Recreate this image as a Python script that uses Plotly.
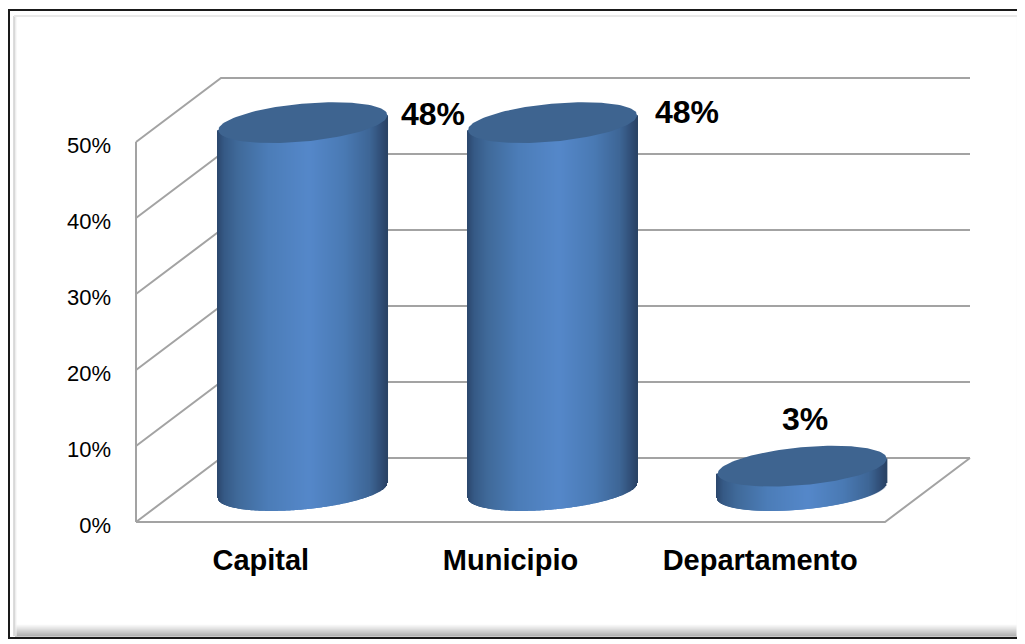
import numpy as np
import plotly.graph_objects as go

categories = ["Capital", "Municipio", "Departamento"]
values = [48.4, 48.4, 3.2]
value_labels = ["48%", "48%", "3%"]
y_ticks = [0, 10, 20, 30, 40, 50]
y_tick_labels = ["0%", "10%", "20%", "30%", "40%", "50%"]

# the page keeps the browser's 8px body margin
PAGE = 8
W, H = 1025 - PAGE, 644 - PAGE
# where the front plane of the chart sits on screen
LEFT, RIGHT, TOP, BOTTOM = 136, 885, 142, 522
PX_X = (RIGHT - LEFT) / 3.0
PX_Y = (BOTTOM - TOP) / 50.0
# plot box is larger than the front plane, lines and bars get clipped to it
BOX_L, BOX_R, BOX_T, BOX_B = 132, 985, 60, 526
X_RANGE = [-0.5 + (BOX_L - LEFT) / PX_X, -0.5 + (BOX_R - LEFT) / PX_X]
Y_RANGE = [(BOTTOM - BOX_B) / PX_Y, (BOTTOM - BOX_T) / PX_Y]

# fake 3D depth of the walls, in axis units
DEPTH_X = 85 / PX_X
DEPTH_Y = 64 / PX_Y
# cylinder shape, in axis units
CYL_OFF_X = 42 / PX_X
CYL_OFF_Y = 31.5 / PX_Y
CYL_A = 84.5 / PX_X
CYL_B = 19 / PX_Y
CYL_TILT = 7.5 / PX_Y

GRID = "#a3a3a3"
TOP_COLOR = "#3e6490"
FONT = "Liberation Sans"

# left to right shading of a cylinder body
shade_pos = [0.0, 0.04, 0.12, 0.3, 0.54, 0.75, 0.9, 0.97, 1.0]
shade_rgb = [(44, 72, 110), (54, 90, 134), (64, 106, 154), (76, 125, 184), (85, 136, 202),
             (74, 122, 180), (62, 102, 150), (48, 78, 118), (42, 68, 102)]


def px_x(px):
    return (px - BOX_L) / (BOX_R - BOX_L)


def px_y(py):
    return (BOX_B - py) / (BOX_B - BOX_T)


fig = go.Figure()


def wall_line(xs, ys):
    fig.add_trace(go.Scatter(x=xs, y=ys, mode="lines", line=dict(color=GRID, width=2),
                             showlegend=False, hoverinfo="skip"))


# walls and floor, on the lower subplot so that the cylinders cover them
for tick in y_ticks:
    wall_line([-0.5, -0.5 + DEPTH_X, 2.5 + DEPTH_X], [tick, tick + DEPTH_Y, tick + DEPTH_Y])
wall_line([-0.5, -0.5], [0, 50])
wall_line([-0.5, 2.5, 2.5 + DEPTH_X], [0, 0, DEPTH_Y])

# cylinders
for i, val in enumerate(values):
    cx = i + CYL_OFF_X
    u = np.linspace(-1, 1, 170)
    front = np.sqrt(1 - u ** 2)
    low = CYL_OFF_Y + CYL_TILT * u - CYL_B * front
    high = CYL_OFF_Y + val + CYL_TILT * u
    colors = ["rgb(%d,%d,%d)" % tuple(np.interp((p + 1) / 2, shade_pos, [c[k] for c in shade_rgb]) for k in range(3))
              for p in u]
    fig.add_trace(go.Bar(
        x=cx + CYL_A * u, y=high - low, base=low,
        width=1.4 / PX_X, marker=dict(color=colors, line=dict(width=0)),
        showlegend=False, hoverinfo="skip",
        xaxis="x2", yaxis="y2",
    ))
    t = np.linspace(0, 2 * np.pi, 120)
    fig.add_trace(go.Scatter(
        x=cx + CYL_A * np.cos(t),
        y=CYL_OFF_Y + val + CYL_TILT * np.cos(t) + CYL_B * np.sin(t),
        mode="lines", fill="toself", fillcolor=TOP_COLOR, line=dict(width=0, color=TOP_COLOR),
        showlegend=False, hoverinfo="skip",
        xaxis="x2", yaxis="y2",
    ))

# value labels sit beside the cylinders
label_shift = [(172, 40), (176, 42), (45, 79)]
for i, val in enumerate(values):
    fig.add_annotation(
        x=i, y=val, xref="x2", yref="y2", text=value_labels[i], showarrow=False,
        xshift=label_shift[i][0], yshift=label_shift[i][1],
        font=dict(family=FONT, size=32, color="black", weight=700),
    )

# picture frame with its soft bevel
shapes = [dict(type="rect", xref="paper", yref="paper", x0=px_x(9), x1=px_x(1040), y0=px_y(10), y1=px_y(638),
               line=dict(color="#1a1a1a", width=2), layer="below")]
for k in range(12):
    g = int(250 - 9 * k)
    shapes.append(dict(type="line", xref="paper", yref="paper", x0=px_x(15), x1=px_x(1025), y0=px_y(625 + k), y1=px_y(625 + k),
                       line=dict(color="rgb(%d,%d,%d)" % (g, g, g), width=1), layer="below"))
for k in range(8):
    g = int(250 - 6 * k)
    shapes.append(dict(type="line", xref="paper", yref="paper", x0=px_x(1017 + k), x1=px_x(1017 + k), y0=px_y(16), y1=px_y(636),
                       line=dict(color="rgb(%d,%d,%d)" % (g, g, g), width=1), layer="below"))
for k in range(3):
    g = int(185 + 28 * k)
    shapes.append(dict(type="line", xref="paper", yref="paper", x0=px_x(14 + k), x1=px_x(14 + k), y0=px_y(16), y1=px_y(636),
                       line=dict(color="rgb(%d,%d,%d)" % (g, g, g), width=1), layer="below"))
shapes.append(dict(type="line", xref="paper", yref="paper", x0=px_x(14), x1=px_x(1025), y0=px_y(16), y1=px_y(16),
                   line=dict(color="#e9e9e9", width=2), layer="below"))

fig.update_layout(
    width=W, height=H,
    margin=dict(l=BOX_L - PAGE, r=W + PAGE - BOX_R, t=BOX_T - PAGE, b=H + PAGE - BOX_B, autoexpand=False),
    paper_bgcolor="white", plot_bgcolor="rgba(0,0,0,0)",
    barmode="overlay", showlegend=False, shapes=shapes,
    xaxis=dict(range=X_RANGE, tickvals=[0, 1, 2], ticktext=categories, showgrid=False, zeroline=False,
               showline=False, ticks="", ticklabelstandoff=14,
               tickfont=dict(family=FONT, size=29, color="black", weight=700)),
    yaxis=dict(range=Y_RANGE, tickvals=y_ticks, ticktext=y_tick_labels, showgrid=False, zeroline=False,
               showline=False, ticks="", ticklabelstandoff=20, ticklabelshift=3,
               tickfont=dict(family=FONT, size=22, color="black")),
    xaxis2=dict(range=X_RANGE, overlaying="x", visible=False),
    yaxis2=dict(range=Y_RANGE, overlaying="y", visible=False),
)

fig.write_html("out.html")
